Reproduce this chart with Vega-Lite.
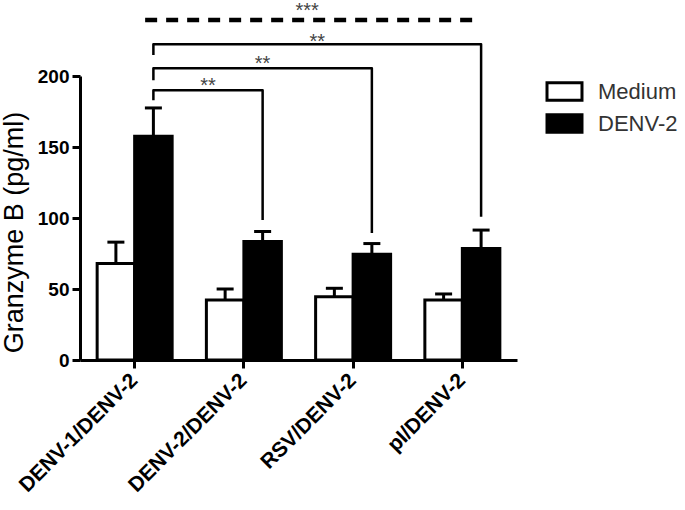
{
  "$schema": "https://vega.github.io/schema/vega-lite/v6.json",
  "width": 437,
  "height": 284,
  "autosize": {"type": "none"},
  "padding": {"left": 80, "top": 76, "right": 168, "bottom": 150},
  "background": "white",
  "config": {
    "view": {"stroke": null},
    "font": "Liberation Sans"
  },
  "datasets": {
    "bars": [
      {"group": "DENV-1/DENV-2", "condition": "Medium", "mean": 68, "upper": 83},
      {"group": "DENV-1/DENV-2", "condition": "DENV-2", "mean": 157.5, "upper": 177.5},
      {"group": "DENV-2/DENV-2", "condition": "Medium", "mean": 42.3, "upper": 50},
      {"group": "DENV-2/DENV-2", "condition": "DENV-2", "mean": 83.5, "upper": 90.5},
      {"group": "RSV/DENV-2", "condition": "Medium", "mean": 44.5, "upper": 50.5},
      {"group": "RSV/DENV-2", "condition": "DENV-2", "mean": 74.5, "upper": 82},
      {"group": "pI/DENV-2", "condition": "Medium", "mean": 42.3, "upper": 46.5},
      {"group": "pI/DENV-2", "condition": "DENV-2", "mean": 78.5, "upper": 91.5}
    ],
    "brackets": [
      {"bracket": "b1", "ord": 1, "group": "DENV-1/DENV-2", "y": 183},
      {"bracket": "b1", "ord": 2, "group": "DENV-1/DENV-2", "y": 190},
      {"bracket": "b1", "ord": 3, "group": "DENV-2/DENV-2", "y": 190},
      {"bracket": "b1", "ord": 4, "group": "DENV-2/DENV-2", "y": 98.6},
      {"bracket": "b2", "ord": 1, "group": "DENV-1/DENV-2", "y": 197},
      {"bracket": "b2", "ord": 2, "group": "DENV-1/DENV-2", "y": 205.4},
      {"bracket": "b2", "ord": 3, "group": "RSV/DENV-2", "y": 205.4},
      {"bracket": "b2", "ord": 4, "group": "RSV/DENV-2", "y": 89.4},
      {"bracket": "b3", "ord": 1, "group": "DENV-1/DENV-2", "y": 214.8},
      {"bracket": "b3", "ord": 2, "group": "DENV-1/DENV-2", "y": 222.3},
      {"bracket": "b3", "ord": 3, "group": "pI/DENV-2", "y": 222.3},
      {"bracket": "b3", "ord": 4, "group": "pI/DENV-2", "y": 100.9}
    ],
    "dashed": [
      {"ord": 1, "group": "DENV-1/DENV-2", "y": 239.4},
      {"ord": 2, "group": "pI/DENV-2", "y": 239.4}
    ],
    "stars": [
      {"id": "b1", "group": "DENV-1/DENV-2", "y": 193, "label": "**"},
      {"id": "b2", "group": "DENV-1/DENV-2", "y": 208.5, "label": "**"},
      {"id": "b3", "group": "DENV-1/DENV-2", "y": 224, "label": "**"},
      {"id": "b4", "group": "DENV-1/DENV-2", "y": 245.5, "label": "***"}
    ]
  },
  "layer": [
    {
      "data": {"name": "bars"},
      "mark": {"type": "bar", "stroke": "black", "strokeWidth": 3},
      "encoding": {
        "x": {
          "field": "group", "type": "nominal",
          "scale": {"type": "band", "domain": ["DENV-1/DENV-2", "DENV-2/DENV-2", "RSV/DENV-2", "pI/DENV-2"], "paddingInner": 0.3135, "paddingOuter": 0.157},
          "axis": {
            "title": null, "domainWidth": 3, "domainColor": "black", "tickColor": "black", "tickWidth": 3, "tickSize": 8,
            "labelAngle": -45, "labelAlign": "right", "labelBaseline": "middle", "labelFontSize": 21, "labelFontWeight": "bold",
            "labelColor": "black", "labelPadding": 9, "labelFont": "Liberation Sans"
          }
        },
        "xOffset": {"field": "condition", "type": "nominal", "sort": ["Medium", "DENV-2"], "scale": {"paddingInner": 0, "paddingOuter": 0}},
        "y": {
          "field": "mean", "type": "quantitative",
          "scale": {"domain": [0, 200], "nice": false},
          "axis": {
            "title": "Granzyme B (pg/ml)", "values": [0, 50, 100, 150, 200], "grid": false,
            "domainWidth": 3, "domainColor": "black", "tickColor": "black", "tickWidth": 3, "tickSize": 8,
            "labelFontSize": 19, "labelFontWeight": "bold", "labelColor": "black", "labelPadding": 3, "labelFont": "Liberation Sans",
            "titleFontSize": 27, "titleFontWeight": "normal", "titleColor": "black", "titleFont": "Liberation Sans",
            "titleX": -66, "titleY": 156, "titleAlign": "center", "titleBaseline": "middle", "titleAngle": 270
          }
        },
        "fill": {
          "field": "condition", "type": "nominal",
          "scale": {"domain": ["Medium", "DENV-2"], "range": ["white", "black"]},
          "legend": {
            "title": null, "orient": "none", "legendX": 471, "legendY": 2, "padding": 0,
            "symbolType": "M-1.5,-0.75H1.5V0.75H-1.5Z", "symbolSize": 544, "symbolStrokeColor": "black", "symbolStrokeWidth": 3,
            "labelFontSize": 22, "labelFont": "Liberation Sans", "labelColor": "#333", "labelOffset": 20, "rowPadding": 1
          }
        }
      }
    },
    {
      "data": {"name": "bars"},
      "mark": {"type": "rule", "stroke": "black", "strokeWidth": 3},
      "encoding": {
        "x": {"field": "group", "type": "nominal"},
        "xOffset": {"field": "condition", "type": "nominal", "sort": ["Medium", "DENV-2"]},
        "y": {"field": "mean", "type": "quantitative"},
        "y2": {"field": "upper"}
      }
    },
    {
      "data": {"name": "bars"},
      "mark": {"type": "tick", "color": "black", "size": 17, "thickness": 3, "opacity": 1},
      "encoding": {
        "x": {"field": "group", "type": "nominal"},
        "xOffset": {"field": "condition", "type": "nominal", "sort": ["Medium", "DENV-2"]},
        "y": {"field": "upper", "type": "quantitative"}
      }
    },
    {
      "data": {"name": "brackets"},
      "mark": {"type": "line", "color": "black", "strokeWidth": 2.5, "strokeJoin": "round"},
      "encoding": {
        "x": {"field": "group", "type": "nominal", "bandPosition": 0.75},
        "y": {"field": "y", "type": "quantitative"},
        "detail": {"field": "bracket"},
        "order": {"field": "ord"}
      }
    },
    {
      "data": {"name": "dashed"},
      "mark": {"type": "line", "color": "black", "strokeWidth": 4.5, "strokeDash": [12, 9]},
      "encoding": {
        "x": {"field": "group", "type": "nominal", "bandPosition": 0.64},
        "y": {"field": "y", "type": "quantitative"},
        "order": {"field": "ord"}
      }
    },
    {
      "data": {"name": "stars"},
      "transform": [{"filter": "datum.id == 'b1'"}],
      "mark": {"type": "text", "fontSize": 20, "color": "#444", "baseline": "middle", "align": "center"},
      "encoding": {
        "x": {"field": "group", "type": "nominal", "bandPosition": 1.478},
        "y": {"field": "y", "type": "quantitative"},
        "text": {"field": "label"}
      }
    },
    {
      "data": {"name": "stars"},
      "transform": [{"filter": "datum.id == 'b2'"}],
      "mark": {"type": "text", "fontSize": 20, "color": "#444", "baseline": "middle", "align": "center"},
      "encoding": {
        "x": {"field": "group", "type": "nominal", "bandPosition": 2.206},
        "y": {"field": "y", "type": "quantitative"},
        "text": {"field": "label"}
      }
    },
    {
      "data": {"name": "stars"},
      "transform": [{"filter": "datum.id == 'b3'"}],
      "mark": {"type": "text", "fontSize": 20, "color": "#444", "baseline": "middle", "align": "center"},
      "encoding": {
        "x": {"field": "group", "type": "nominal", "bandPosition": 2.935},
        "y": {"field": "y", "type": "quantitative"},
        "text": {"field": "label"}
      }
    },
    {
      "data": {"name": "stars"},
      "transform": [{"filter": "datum.id == 'b4'"}],
      "mark": {"type": "text", "fontSize": 20, "color": "#444", "baseline": "middle", "align": "center"},
      "encoding": {
        "x": {"field": "group", "type": "nominal", "bandPosition": 2.8},
        "y": {"field": "y", "type": "quantitative"},
        "text": {"field": "label"}
      }
    }
  ]
}
